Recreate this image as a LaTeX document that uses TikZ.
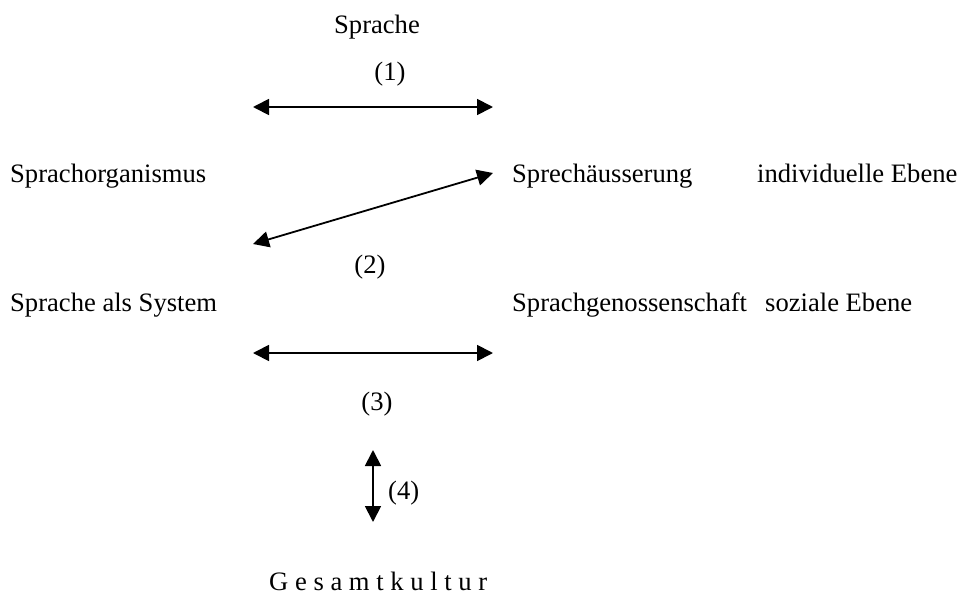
\documentclass[tikz,border=0pt]{standalone}
\usepackage{fontspec}
\setmainfont{Liberation Serif}
\usetikzlibrary{arrows.meta}
\begin{document}
\begin{tikzpicture}[x=1pt,y=-1pt,
  lbl/.style={inner sep=0pt,font=\fontsize{26.6}{32}\selectfont},
  twoway/.style={line width=1.8pt,{Triangle[length=16pt,width=16pt]}-{Triangle[length=16pt,width=16pt]}}]
\useasboundingbox (0,0) rectangle (959,597);

% labels
\node[lbl,anchor=base] (sprache) at (377,34) {Sprache};
\node[lbl,anchor=base] (n1) at (390,80) {(1)};
\node[lbl,anchor=base west] (sorg) at (10,182) {Sprachorganismus};
\node[lbl,anchor=base west] (saeuss) at (512,182) {Sprechäusserung};
\node[lbl,anchor=base west] (indiv) at (757,182) {individuelle Ebene};
\node[lbl,anchor=base] (n2) at (370,273) {(2)};
\node[lbl,anchor=base west] (ssys) at (10,311) {Sprache als System};
\node[lbl,anchor=base west] (sgen) at (512,311) {Sprachgenossenschaft};
\node[lbl,anchor=base west] (sozial) at (765,311) {soziale Ebene};
\node[lbl,anchor=base] (n3) at (377,410) {(3)};
\node[lbl,anchor=base west] (n4) at (388,499) {(4)};
\node[lbl,anchor=base west] (gesamt) at (269,590) {G e s a m t k u l t u r};

% arrow end points
\coordinate (a1l) at (253,107);
\coordinate (a1r) at (493,107);
\coordinate (a2l) at (253,244);
\coordinate (a2r) at (493,173);
\coordinate (a3l) at (253,353);
\coordinate (a3r) at (493,353);
\coordinate (a4t) at (373,450);
\coordinate (a4b) at (373,522);

% double-headed arrows
\draw[twoway] (a1l) -- (a1r);
\draw[twoway] (a2l) -- (a2r);
\draw[twoway] (a3l) -- (a3r);
\draw[twoway] (a4t) -- (a4b);
\end{tikzpicture}
\end{document}
